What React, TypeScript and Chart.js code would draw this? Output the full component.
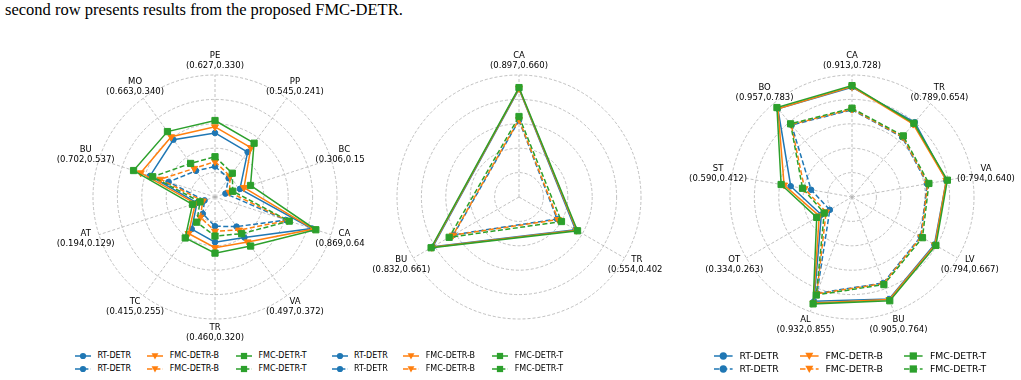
import React, { useEffect, useRef } from 'react';
import { Chart, registerables } from 'chart.js';

Chart.register(...registerables);

const CAPTION = 'second row presents results from the proposed FMC-DETR.';

const RING_TICKS = [0, 0.2, 0.4, 0.6, 0.8, 1.0];
const SERIES_NAMES = ['RT-DETR', 'FMC-DETR-B', 'FMC-DETR-T'];
const SERIES_COLORS = ['#1f77b4', '#ff7f0e', '#2ca02c'];
const SERIES_MARKERS = ['circle', 'triangle', 'rect'];

// ---- Chart 1 ----
const c1Categories = ['PE', 'PP', 'BC', 'CA', 'VA', 'TR', 'TC', 'AT', 'BU', 'MO'];
const c1Tags = ['(0.627,0.330)', '(0.545,0.241)', '(0.306,0.153)', '(0.869,0.640)', '(0.497,0.372)', '(0.460,0.320)', '(0.415,0.255)', '(0.194,0.129)', '(0.702,0.537)', '(0.663,0.340)'];
const c1RtSolid = [0.525, 0.455, 0.215, 0.835, 0.41, 0.37, 0.325, 0.155, 0.56, 0.58];
const c1BSolid = [0.575, 0.5, 0.25, 0.85, 0.455, 0.415, 0.37, 0.17, 0.64, 0.61];
const c1TSolid = [0.627, 0.545, 0.306, 0.869, 0.497, 0.46, 0.415, 0.194, 0.702, 0.663];
const c1RtDash = [0.25, 0.19, 0.09, 0.61, 0.3, 0.24, 0.17, 0.09, 0.4, 0.265];
const c1BDash = [0.29, 0.21, 0.125, 0.625, 0.335, 0.28, 0.205, 0.105, 0.47, 0.29];
const c1TDash = [0.33, 0.241, 0.153, 0.64, 0.372, 0.32, 0.255, 0.129, 0.537, 0.34];

// ---- Chart 2 ----
const c2Categories = ['CA', 'TR', 'BU'];
const c2Tags = ['(0.897,0.660)', '(0.554,0.402)', '(0.832,0.661)'];
const c2RtSolid = [0.885, 0.535, 0.815];
const c2BSolid = [0.89, 0.545, 0.825];
const c2TSolid = [0.897, 0.554, 0.832];
const c2RtDash = [0.628, 0.36, 0.62];
const c2BDash = [0.635, 0.37, 0.625];
const c2TDash = [0.66, 0.402, 0.661];

// ---- Chart 3 ----
const c3Categories = ['CA', 'TR', 'VA', 'LV', 'BU', 'AL', 'OT', 'ST', 'BO'];
const c3Tags = ['(0.913,0.728)', '(0.789,0.654)', '(0.794,0.640)', '(0.794,0.667)', '(0.905,0.764)', '(0.932,0.855)', '(0.334,0.263)', '(0.590,0.412)', '(0.957,0.783)'];
const c3RtSolid = [0.9, 0.8, 0.785, 0.78, 0.89, 0.91, 0.29, 0.51, 0.945];
const c3BSolid = [0.905, 0.78, 0.785, 0.785, 0.895, 0.925, 0.31, 0.565, 0.945];
const c3TSolid = [0.913, 0.789, 0.794, 0.794, 0.905, 0.932, 0.334, 0.59, 0.957];
const c3RtDash = [0.715, 0.64, 0.625, 0.65, 0.75, 0.84, 0.21, 0.34, 0.77];
const c3BDash = [0.72, 0.645, 0.63, 0.655, 0.755, 0.845, 0.245, 0.395, 0.775];
const c3TDash = [0.728, 0.654, 0.64, 0.667, 0.764, 0.855, 0.263, 0.412, 0.783];

const GRID_COLOR = '#b0b0b0';
const CANVAS_H = 300;
const OUTER_R = 122;
const SCALE_MAX = (CANVAS_H / 2) / OUTER_R;

const polarDecor = {
  id: 'polarDecor',
  beforeDatasetsDraw(chart: any) {
    const s = chart.scales.r;
    const n = chart.data.labels.length;
    const ctx = chart.ctx;
    const outer = s.getDistanceFromCenterForValue(1);
    ctx.save();
    ctx.strokeStyle = GRID_COLOR;
    ctx.lineWidth = 0.8;
    ctx.setLineDash([3, 2]);
    for (let i = 0; i < n; i++) {
      const p = s.getPointPosition(i, outer);
      ctx.beginPath();
      ctx.moveTo(s.xCenter, s.yCenter);
      ctx.lineTo(p.x, p.y);
      ctx.stroke();
    }
    ctx.restore();
  },
  afterDraw(chart: any) {
    const s = chart.scales.r;
    const labels = chart.data.labels;
    const ctx = chart.ctx;
    const outer = s.getDistanceFromCenterForValue(1);
    ctx.save();
    ctx.font = '8.5px "DejaVu Sans"';
    ctx.fillStyle = '#000';
    ctx.textAlign = 'center';
    ctx.textBaseline = 'middle';
    for (let i = 0; i < labels.length; i++) {
      const p = s.getPointPosition(i, outer + 14);
      const lines = labels[i];
      ctx.fillText(lines[0], p.x, p.y - 5);
      ctx.fillText(lines[1], p.x, p.y + 5);
    }
    ctx.restore();
  },
};

function makeDataset(k: number, dashed: boolean, data: number[]) {
  const color = SERIES_COLORS[k];
  const marker = SERIES_MARKERS[k];
  const radius = marker === 'circle' ? 2.8 : marker === 'triangle' ? 4 : 4.4;
  return {
    label: SERIES_NAMES[k],
    data,
    borderColor: color,
    backgroundColor: color,
    borderWidth: 1.5,
    borderDash: dashed ? [5, 2.5] : [],
    fill: false,
    tension: 0,
    pointStyle: marker,
    pointRotation: marker === 'triangle' ? 180 : 0,
    pointRadius: radius,
    pointHoverRadius: radius,
    pointBackgroundColor: color,
    pointBorderColor: color,
    pointBorderWidth: 1,
    order: 6 - (k * 2 + (dashed ? 1 : 0)),
  };
}

type RadarProps = {
  categories: string[];
  tags: string[];
  series: number[][]; // rtSolid, bSolid, tSolid, rtDash, bDash, tDash
  cx: number;
  cy: number;
  width: number;
  clipRight: number;
};

function Radar({ categories, tags, series, cx, cy, width, clipRight }: RadarProps) {
  const ref = useRef<HTMLCanvasElement | null>(null);
  useEffect(() => {
    if (!ref.current) return;
    const labels = categories.map((c, i) => [c, tags[i]]);
    const datasets = [
      makeDataset(0, false, series[0]),
      makeDataset(0, true, series[3]),
      makeDataset(1, false, series[1]),
      makeDataset(1, true, series[4]),
      makeDataset(2, false, series[2]),
      makeDataset(2, true, series[5]),
    ];
    const chart = new Chart(ref.current, {
      type: 'radar',
      data: { labels, datasets },
      options: {
        responsive: false,
        animation: false,
        events: [],
        plugins: { legend: { display: false }, tooltip: { enabled: false } },
        scales: {
          r: {
            min: 0,
            max: SCALE_MAX,
            afterBuildTicks: (sc: any) => {
              sc.ticks = RING_TICKS.map((v) => ({ value: v }));
            },
            ticks: { display: false },
            grid: { circular: true, color: GRID_COLOR, lineWidth: 0.8 },
            border: { dash: [3, 2] },
            angleLines: { display: false },
            pointLabels: { display: false },
          },
        },
      } as any,
      plugins: [polarDecor as any],
    });
    return () => chart.destroy();
  }, []);
  const left = cx - width / 2;
  return (
    <div style={{ position: 'absolute', left, top: cy - CANVAS_H / 2, width: clipRight - left, height: CANVAS_H, overflow: 'hidden' }}>
      <canvas ref={ref} width={width} height={CANVAS_H} style={{ width, height: CANVAS_H, display: 'block' }} />
    </div>
  );
}

function Marker({ kind, cx, cy, s, color }: any) {
  if (kind === 'circle') return <circle cx={cx} cy={cy} r={s * 0.5} fill={color} />;
  if (kind === 'triangle')
    return <polygon points={`${cx - s * 0.55},${cy - s * 0.45} ${cx + s * 0.55},${cy - s * 0.45} ${cx},${cy + s * 0.55}`} fill={color} />;
  return <rect x={cx - s * 0.5} y={cy - s * 0.5} width={s} height={s} fill={color} />;
}

function Legend({ cols, rows, font, handle, pad }: { cols: number[]; rows: number[]; font: number; handle: number; pad: number }) {
  const items: any[] = [];
  rows.forEach((ry, r) => {
    cols.forEach((cx, k) => {
      const color = SERIES_COLORS[k];
      const dashed = r === 1;
      items.push(
        <div key={`${r}-${k}`}>
          <svg
            style={{ position: 'absolute', left: cx, top: ry - 6, overflow: 'visible' }}
            width={handle}
            height={12}
          >
            <line x1={0} y1={6} x2={handle} y2={6} stroke={color} strokeWidth={1.5} strokeDasharray={dashed ? '5.5 2.4' : undefined} />
            <Marker kind={SERIES_MARKERS[k]} cx={handle / 2} cy={6} s={font * 0.78} color={color} />
          </svg>
          <span
            style={{
              position: 'absolute',
              left: cx + handle + pad,
              top: ry - 7,
              fontFamily: '"DejaVu Sans"',
              fontSize: font,
              lineHeight: '14px',
              whiteSpace: 'nowrap',
              color: '#000',
            }}
          >
            {SERIES_NAMES[k]}
          </span>
        </div>
      );
    });
  });
  return <>{items}</>;
}

export default function App() {
  const rows = [355.6, 369.3];
  return (
    <div style={{ position: 'absolute', left: 0, top: 0, width: 1021, height: 380, background: '#fff', overflow: 'hidden' }}>
      <div
        style={{
          position: 'absolute',
          left: 5,
          top: 2,
          fontFamily: '"Liberation Serif"',
          fontSize: 16.5,
          lineHeight: '16px',
          whiteSpace: 'nowrap',
          color: '#000',
        }}
      >
        {CAPTION}
      </div>
      <Radar
        categories={c1Categories}
        tags={c1Tags}
        series={[c1RtSolid, c1BSolid, c1TSolid, c1RtDash, c1BDash, c1TDash]}
        cx={215}
        cy={197}
        width={320}
        clipRight={365}
      />
      <Radar
        categories={c2Categories}
        tags={c2Tags}
        series={[c2RtSolid, c2BSolid, c2TSolid, c2RtDash, c2BDash, c2TDash]}
        cx={519}
        cy={197}
        width={320}
        clipRight={662}
      />
      <Radar
        categories={c3Categories}
        tags={c3Tags}
        series={[c3RtSolid, c3BSolid, c3TSolid, c3RtDash, c3BDash, c3TDash]}
        cx={852}
        cy={197}
        width={336}
        clipRight={1020}
      />
      <Legend cols={[75, 147.3, 236]} rows={rows} font={8} handle={16} pad={6.4} />
      <Legend cols={[331.7, 403.3, 492.3]} rows={rows} font={8} handle={16} pad={6.4} />
      <Legend cols={[713.5, 799.5, 904]} rows={rows} font={9.3} handle={18.6} pad={7.4} />
    </div>
  );
}
